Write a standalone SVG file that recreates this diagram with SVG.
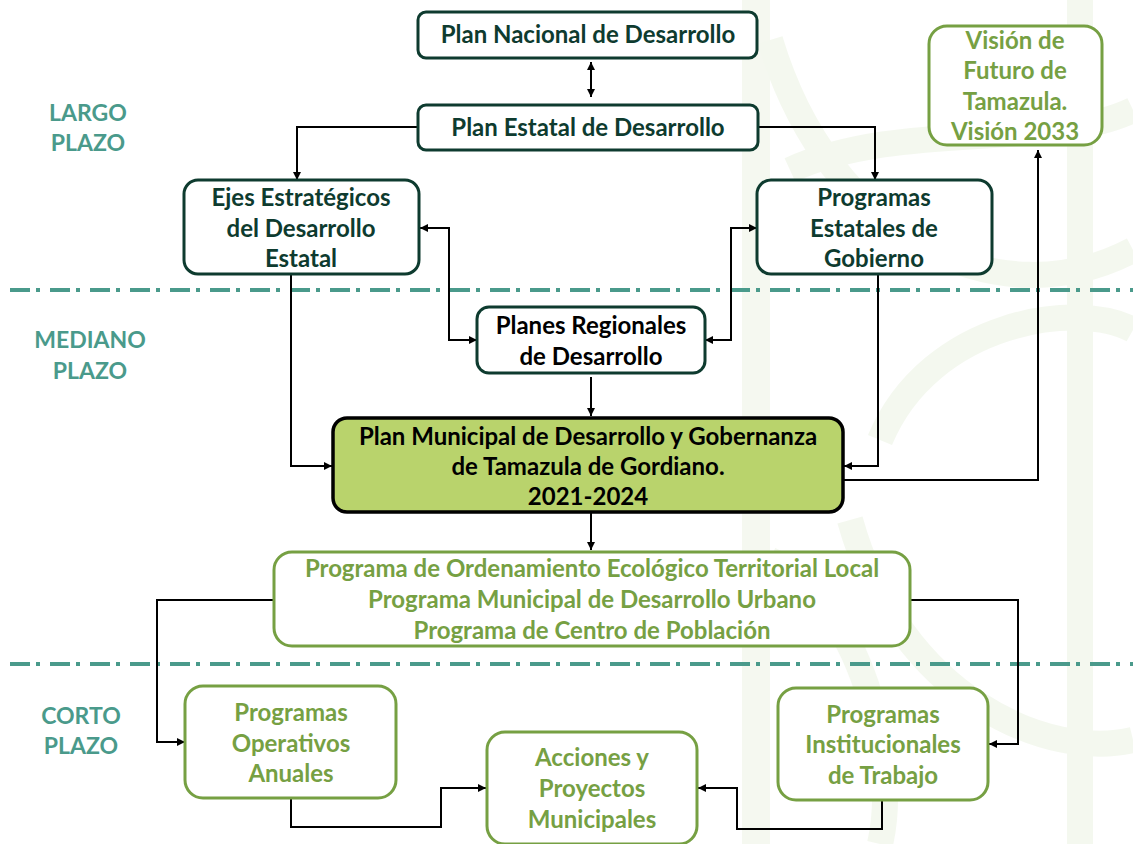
<svg xmlns="http://www.w3.org/2000/svg" width="1133" height="844" viewBox="0 0 1133 844">
<defs>
<marker id="ah" viewBox="0 0 10 10" refX="10" refY="5" markerWidth="9" markerHeight="8" markerUnits="userSpaceOnUse" orient="auto-start-reverse">
<path d="M0,0 L10,5 L0,10 z" fill="#000"/>
</marker>
<style>
.t{font-family:Lato,"Open Sans","Liberation Sans",sans-serif;font-weight:bold;font-size:24px;text-anchor:middle}
.dk{fill:#0e3b2f}
.ol{fill:#76a043}
.bk{fill:#000}
.tl{fill:#4a9a8b;font-size:23px}
.nd{fill:#fff;stroke:#0e3b2f;stroke-width:3}
.no{fill:#fff;stroke:#76a043;stroke-width:3}
.c{fill:none;stroke:#000;stroke-width:2}
.dd{stroke:#4a9a8b;stroke-width:4;stroke-dasharray:20 6 4 10;fill:none}
.wm{fill:none;stroke:#f0f6e9;stroke-width:26}
</style>
</defs>
<rect width="1133" height="844" fill="#fff"/>
<g id="watermark" opacity="0.7">
<rect x="742" y="0" width="28" height="844" fill="#f1f6ea"/>
<path class="wm" d="M770,40 C830,240 1000,320 1133,250"/>
<path class="wm" d="M790,170 C900,120 1050,150 1133,110"/>
<path class="wm" d="M880,440 C930,320 1080,300 1133,330"/>
<path class="wm" d="M850,520 C900,700 1050,760 1133,740"/>
<path class="wm" d="M1080,0 L1080,844"/>
<path class="wm" d="M770,560 C860,600 900,760 880,844"/>
</g>
<g id="bands">
<path class="dd" d="M10,290 H1133"/>
<path class="dd" d="M10,664 H1133"/>
<text class="t tl" x="88" y="121">LARGO</text>
<text class="t tl" x="88" y="151">PLAZO</text>
<text class="t tl" x="90" y="348">MEDIANO</text>
<text class="t tl" x="90" y="379">PLAZO</text>
<text class="t tl" x="81" y="724">CORTO</text>
<text class="t tl" x="81" y="754">PLAZO</text>
</g>
<g id="connectors">
<path class="c" d="M591,62 V97" marker-start="url(#ah)" marker-end="url(#ah)"/>
<path class="c" d="M418,127 H297 V180" marker-end="url(#ah)"/>
<path class="c" d="M758,127 H875 V180" marker-end="url(#ah)"/>
<path class="c" d="M420,228 H449 V340 H477" marker-start="url(#ah)" marker-end="url(#ah)"/>
<path class="c" d="M757,228 H731 V340 H705" marker-start="url(#ah)" marker-end="url(#ah)"/>
<path class="c" d="M591,377 V416" marker-end="url(#ah)"/>
<path class="c" d="M291,274 V466 H332" marker-end="url(#ah)"/>
<path class="c" d="M878,274 V466 H844" marker-end="url(#ah)"/>
<path class="c" d="M843,480 H1038 V150" marker-end="url(#ah)"/>
<path class="c" d="M591,512 V550" marker-end="url(#ah)"/>
<path class="c" d="M274,600 H157 V742 H185" marker-end="url(#ah)"/>
<path class="c" d="M910,600 H1018 V744 H989" marker-end="url(#ah)"/>
<path class="c" d="M291,798 V827 H441 V788 H486" marker-end="url(#ah)"/>
<path class="c" d="M882,800 V829 H737 V788 H698" marker-end="url(#ah)"/>
</g>
<g id="n-nacional">
<rect class="nd" x="418" y="12" width="339" height="46" rx="8"/>
<text class="t dk" x="588" y="43">Plan Nacional de Desarrollo</text>
</g>
<g id="n-estatal">
<rect class="nd" x="418" y="105" width="340" height="45" rx="8"/>
<text class="t dk" x="588" y="136">Plan Estatal de Desarrollo</text>
</g>
<g id="n-ejes">
<rect class="nd" x="184" y="180" width="235" height="94" rx="14"/>
<text class="t dk" x="301" y="206">Ejes Estratégicos</text>
<text class="t dk" x="301" y="237">del Desarrollo</text>
<text class="t dk" x="301" y="267">Estatal</text>
</g>
<g id="n-programas-estatales">
<rect class="nd" x="757" y="180" width="235" height="94" rx="14"/>
<text class="t dk" x="874" y="206">Programas</text>
<text class="t dk" x="874" y="237">Estatales de</text>
<text class="t dk" x="874" y="267">Gobierno</text>
</g>
<g id="n-vision">
<rect class="no" x="929" y="26" width="173" height="119" rx="18"/>
<text class="t ol" x="1015" y="49">Visión de</text>
<text class="t ol" x="1015" y="79">Futuro de</text>
<text class="t ol" x="1015" y="110">Tamazula.</text>
<text class="t ol" x="1015" y="140">Visión 2033</text>
</g>
<g id="n-regionales">
<rect class="nd" x="477" y="307" width="228" height="66" rx="12"/>
<text class="t bk" x="591" y="334">Planes Regionales</text>
<text class="t bk" x="591" y="365">de Desarrollo</text>
</g>
<g id="n-municipal">
<rect x="333" y="418" width="510" height="94" rx="14" fill="#b9d36c" stroke="#000" stroke-width="3.5"/>
<text class="t bk" x="588" y="445">Plan Municipal de Desarrollo y Gobernanza</text>
<text class="t bk" x="588" y="475">de Tamazula de Gordiano.</text>
<text class="t bk" x="588" y="505">2021-2024</text>
</g>
<g id="n-ordenamiento">
<rect class="no" x="274" y="552" width="636" height="94" rx="18"/>
<text class="t ol" x="592" y="577">Programa de Ordenamiento Ecológico Territorial Local</text>
<text class="t ol" x="592" y="608">Programa Municipal de Desarrollo Urbano</text>
<text class="t ol" x="592" y="639">Programa de Centro de Población</text>
</g>
<g id="n-operativos">
<rect class="no" x="185" y="686" width="211" height="112" rx="18"/>
<text class="t ol" x="291" y="721">Programas</text>
<text class="t ol" x="291" y="752">Operativos</text>
<text class="t ol" x="291" y="782">Anuales</text>
</g>
<g id="n-acciones">
<rect class="no" x="487" y="732" width="210" height="112" rx="18"/>
<text class="t ol" x="592" y="766">Acciones y</text>
<text class="t ol" x="592" y="797">Proyectos</text>
<text class="t ol" x="592" y="828">Municipales</text>
</g>
<g id="n-institucionales">
<rect class="no" x="778" y="688" width="210" height="112" rx="18"/>
<text class="t ol" x="883" y="723">Programas</text>
<text class="t ol" x="883" y="753">Institucionales</text>
<text class="t ol" x="883" y="784">de Trabajo</text>
</g>
</svg>
